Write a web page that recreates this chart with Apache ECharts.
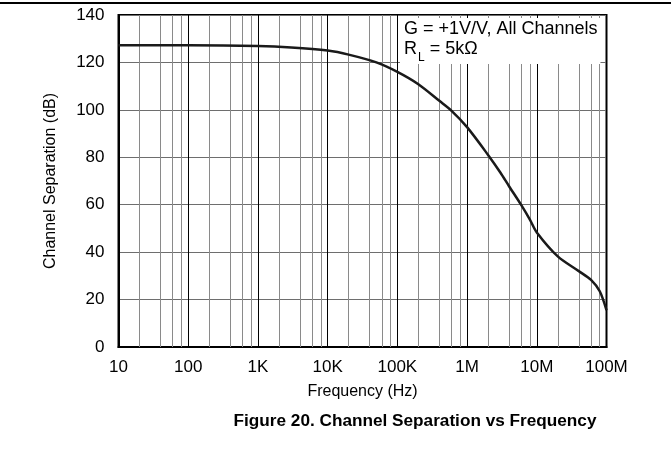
<!DOCTYPE html>
<html>
<head>
<meta charset="utf-8">
<script src="https://cdn.jsdelivr.net/npm/echarts@6/dist/echarts.min.js"></script>
<style>
html,body{margin:0;padding:0;background:#fff;}
#chart{width:671px;height:449px;}
</style>
</head>
<body>
<div id="chart"></div>
<script>
// Data
var frequencyHz = [10, 100, 1000, 3000, 10000, 20000, 50000, 100000, 200000, 400000, 600000, 1000000, 2000000, 3000000, 4000000, 6000000, 8000000, 10000000, 20000000, 40000000, 60000000, 80000000, 100000000];
var separationDb = [127.2, 127.2, 126.9, 126.3, 125.0, 123.3, 120.0, 116.0, 110.8, 103.8, 99.6, 92.7, 81.0, 73.6, 67.8, 59.8, 53.6, 48.3, 38.2, 32.0, 28.3, 23.5, 15.5];
var xTickValues = [10, 100, 1000, 10000, 100000, 1000000, 10000000, 100000000];
var xTickLabels = ['10', '100', '1K', '10K', '100K', '1M', '10M', '100M'];
var yTicks = [0, 20, 40, 60, 80, 100, 120, 140];
var minorMultipliers = [2, 4, 6, 8];
var minorGridValues = [];
for (var d = 0; d < xTickValues.length - 1; d++) {
  for (var m = 0; m < minorMultipliers.length; m++) {
    minorGridValues.push(xTickValues[d] * minorMultipliers[m]);
  }
}

var FONT = '"Liberation Sans", Arial, sans-serif';
var chart = echarts.init(document.getElementById('chart'), null, {renderer: 'canvas'});
var lineData = frequencyHz.map(function (f, i) { return [f, separationDb[i]]; });

chart.setOption({
  backgroundColor: '#fff',
  animation: false,
  title: [{
    text: 'Figure 20. Channel Separation vs Frequency',
    left: 410, top: 408, textAlign: 'center',
    textStyle: {fontFamily: FONT, fontSize: 17.2, fontWeight: 'bold', color: '#000'}
  }, {
    text: '{a|G = +1V/V, All Channels}\n{a|R}{s|L}{a| = 5kΩ}',
    left: 400, top: 17,
    backgroundColor: '#fff',
    padding: [2, 3, 0, 4],
    textStyle: {
      fontWeight: 'normal',
      rich: {
        a: {fontFamily: FONT, fontSize: 18, fontWeight: 'normal', color: '#000', lineHeight: 20},
        s: {fontFamily: FONT, fontSize: 12, fontWeight: 'normal', color: '#000', lineHeight: 12, verticalAlign: 'bottom', padding: [0, 0, -5, 1]}
      }
    }
  }],
  graphic: [{
    type: 'line', shape: {x1: 0, y1: 3, x2: 671, y2: 3},
    style: {stroke: '#000', lineWidth: 2}
  }],
  grid: {left: 118.5, right: 64.5, top: 15, bottom: 102, show: true, borderColor: '#000', borderWidth: 2, backgroundColor: 'transparent'},
  xAxis: {
    type: 'log', logBase: 10, min: 10, max: 100000000,
    name: 'Frequency (Hz)', nameLocation: 'middle', nameGap: 37,
    nameTextStyle: {fontFamily: FONT, fontSize: 16, color: '#000'},
    axisLine: {show: true, lineStyle: {color: '#000', width: 2}},
    axisTick: {show: false},
    axisLabel: {
      fontFamily: FONT, fontSize: 17, color: '#000', margin: 12,
      formatter: function (v) {
        var i = -1;
        for (var k = 0; k < xTickValues.length; k++) {
          if (Math.abs(xTickValues[k] - v) / xTickValues[k] < 1e-6) { i = k; break; }
        }
        return i >= 0 ? xTickLabels[i] : '';
      }
    },
    splitLine: {show: true, lineStyle: {color: '#000', width: 1}}
  },
  yAxis: {
    type: 'value', min: yTicks[0], max: yTicks[yTicks.length - 1], interval: 20,
    name: 'Channel Separation (dB)', nameLocation: 'middle', nameGap: 60,
    nameTextStyle: {fontFamily: FONT, fontSize: 16, color: '#000'},
    axisLine: {show: true, lineStyle: {color: '#000', width: 2}},
    axisTick: {show: false},
    axisLabel: {fontFamily: FONT, fontSize: 17, color: '#000', margin: 14},
    splitLine: {show: true, lineStyle: {color: '#6e6e6e', width: 1}}
  },
  series: [{
    type: 'line',
    name: 'minor grid',
    data: [],
    z: 1,
    silent: true,
    markLine: {
      silent: true,
      symbol: ['none', 'none'],
      animation: false,
      label: {show: false},
      lineStyle: {color: '#8a8a8a', width: 1, type: 'solid'},
      emphasis: {disabled: true},
      data: minorGridValues.map(function (v) { return {xAxis: v}; })
    }
  }, {
    type: 'line',
    name: 'Channel Separation',
    data: lineData,
    z: 5,
    smooth: 0.3,
    symbol: 'none',
    lineStyle: {color: '#1a1a1a', width: 2.5}
  }]
});
</script>
</body>
</html>
